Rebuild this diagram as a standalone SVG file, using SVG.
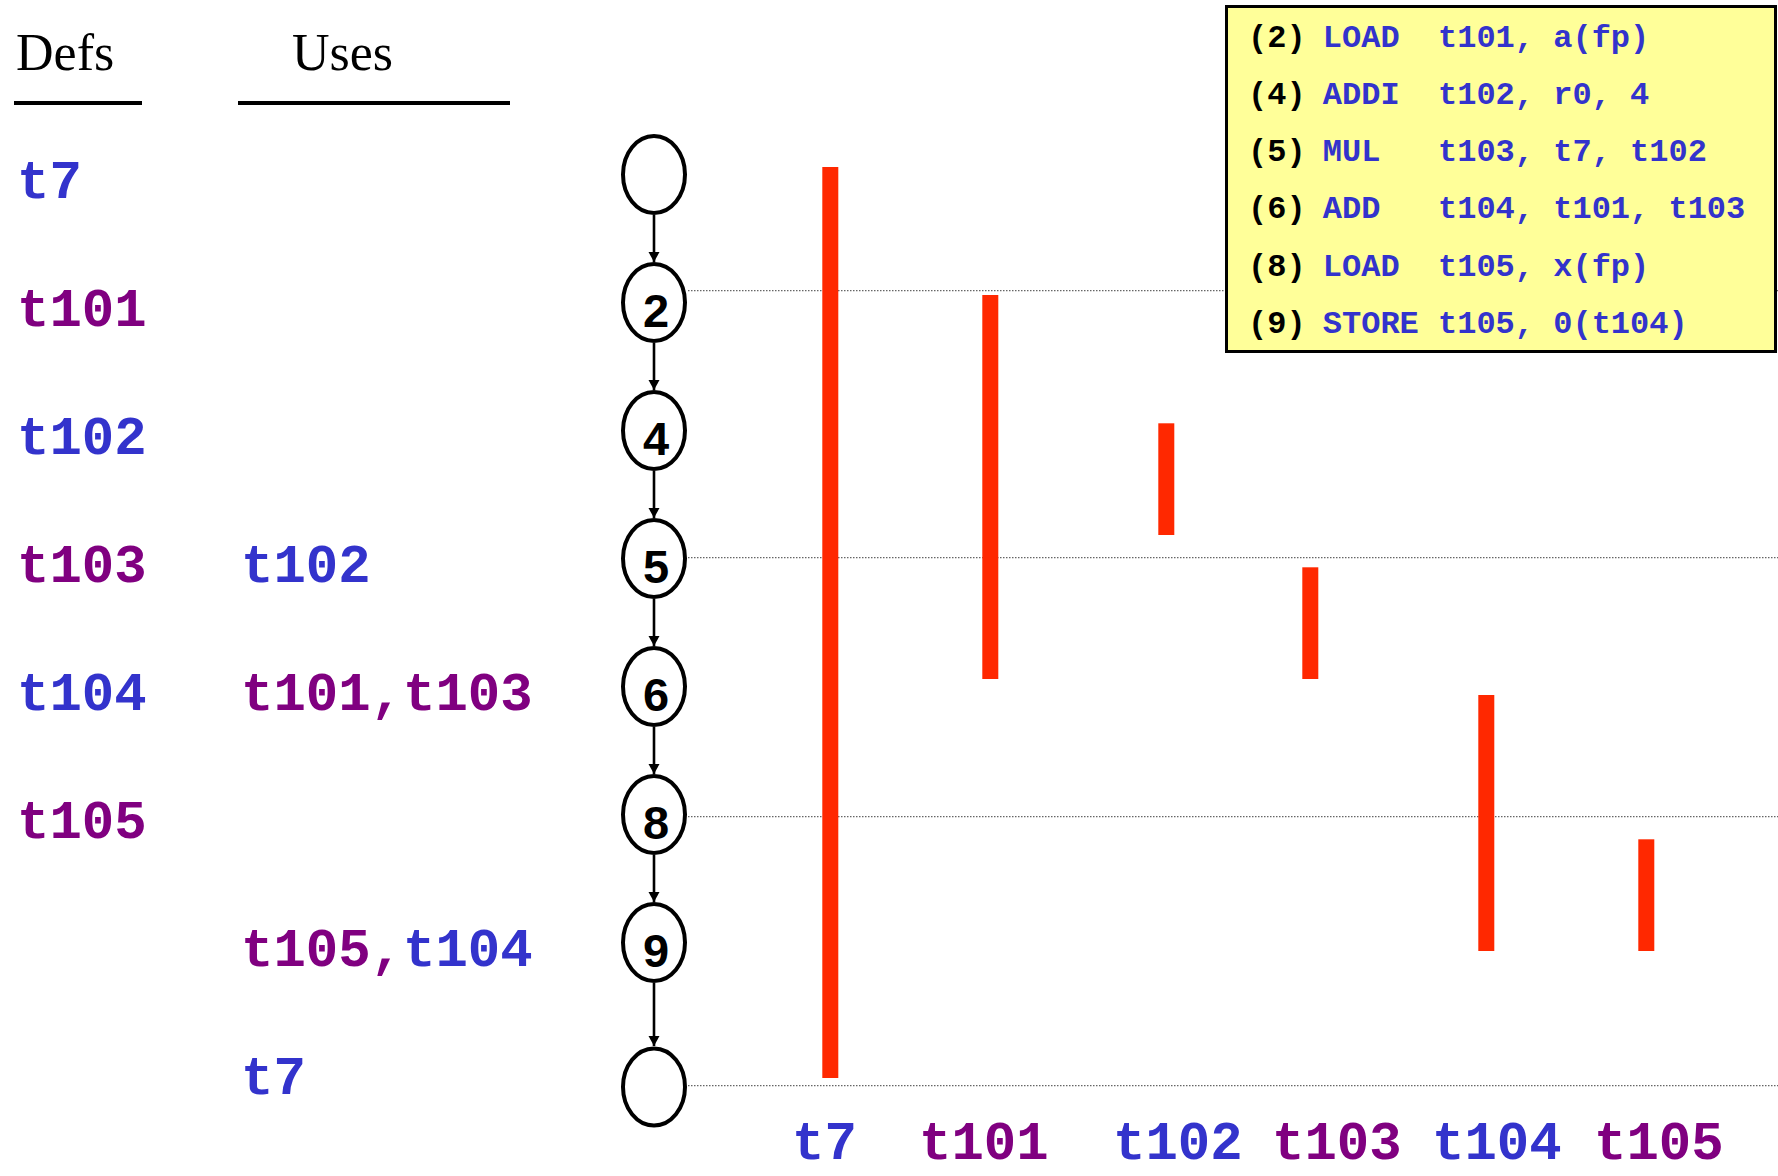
<svg xmlns="http://www.w3.org/2000/svg" width="1778" height="1176" viewBox="0 0 1778 1176">
  <defs>
    <style>
      .hdr { font-family: "Liberation Serif", "Times New Roman", serif; font-size: 52px; fill: #000; }
      .mono { font-family: "Liberation Mono", "Courier New", monospace; font-weight: bold; font-size: 54px; }
      .code { font-family: "Liberation Mono", "Courier New", monospace; font-weight: bold; font-size: 32px; fill: #3333CC; }
      .num { fill: #000; }
      .blue { fill: #3333CC; }
      .purple { fill: #800080; }
      .node ellipse { fill: #fff; stroke: #000; stroke-width: 4; }
      .node text { font-family: "Liberation Sans", Arial, sans-serif; font-weight: bold; font-size: 47px; fill: #000; text-anchor: middle; }
      .edge { stroke: #000; stroke-width: 2.6; fill: none; }
      .guide { stroke: #666; stroke-width: 1.3; stroke-dasharray: 1.5 1.5; fill: none; }
      .live { fill: #FF2800; }
    </style>
    <marker id="arrow" markerUnits="userSpaceOnUse" markerWidth="12" markerHeight="12" refX="10" refY="5.5" orient="auto">
      <path d="M0,0 L10,5.5 L0,11 Z" fill="#000"/>
    </marker>
  </defs>

  <rect width="1778" height="1176" fill="#fff"/>

  <!-- column headers -->
  <g id="headers">
    <text class="hdr" x="16" y="70">Defs</text>
    <text class="hdr" x="292" y="70">Uses</text>
    <line x1="14" y1="103" x2="142" y2="103" stroke="#000" stroke-width="4"/>
    <line x1="238" y1="103" x2="510" y2="103" stroke="#000" stroke-width="4"/>
  </g>

  <!-- defs column -->
  <g id="defs-column" class="mono">
    <text class="blue" x="17" y="198">t7</text>
    <text class="purple" x="17" y="326">t101</text>
    <text class="blue" x="17" y="454">t102</text>
    <text class="purple" x="17" y="582">t103</text>
    <text class="blue" x="17" y="710">t104</text>
    <text class="purple" x="17" y="838">t105</text>
  </g>

  <!-- uses column -->
  <g id="uses-column" class="mono">
    <text class="blue" x="241" y="582">t102</text>
    <text class="purple" x="241" y="710">t101,t103</text>
    <text x="241" y="966"><tspan class="purple">t105,</tspan><tspan class="blue">t104</tspan></text>
    <text class="blue" x="241" y="1094">t7</text>
  </g>

  <!-- dotted guide lines at the program points -->
  <g id="guides">
    <line class="guide" x1="688" y1="290.7" x2="1778" y2="290.7"/>
    <line class="guide" x1="688" y1="557.7" x2="1778" y2="557.7"/>
    <line class="guide" x1="688" y1="816.7" x2="1778" y2="816.7"/>
    <line class="guide" x1="688" y1="1085.7" x2="1778" y2="1085.7"/>
  </g>

  <!-- live ranges -->
  <g id="live-ranges">
    <rect class="live" x="822.3" y="167" width="16" height="911"/>
    <rect class="live" x="982.3" y="295" width="16" height="384"/>
    <rect class="live" x="1158.3" y="423.3" width="16" height="111.7"/>
    <rect class="live" x="1302.3" y="567.3" width="16" height="111.7"/>
    <rect class="live" x="1478.3" y="695" width="16" height="256"/>
    <rect class="live" x="1638.3" y="839.3" width="16" height="111.7"/>
  </g>

  <!-- control-flow edges -->
  <g id="edges">
    <line class="edge" x1="654" y1="215" x2="654" y2="262" marker-end="url(#arrow)"/>
    <line class="edge" x1="654" y1="343" x2="654" y2="390" marker-end="url(#arrow)"/>
    <line class="edge" x1="654" y1="471" x2="654" y2="518" marker-end="url(#arrow)"/>
    <line class="edge" x1="654" y1="599" x2="654" y2="646" marker-end="url(#arrow)"/>
    <line class="edge" x1="654" y1="727" x2="654" y2="774" marker-end="url(#arrow)"/>
    <line class="edge" x1="654" y1="855" x2="654" y2="902" marker-end="url(#arrow)"/>
    <line class="edge" x1="654" y1="983" x2="654" y2="1046" marker-end="url(#arrow)"/>
  </g>

  <!-- flow-graph nodes -->
  <g id="node-entry" class="node"><ellipse cx="654" cy="174.5" rx="31" ry="38.5"/></g>
  <g id="node-2" class="node"><ellipse cx="654" cy="302.5" rx="31" ry="38.5"/><text x="656" y="326.5">2</text></g>
  <g id="node-4" class="node"><ellipse cx="654" cy="430.5" rx="31" ry="38.5"/><text x="656" y="454.5">4</text></g>
  <g id="node-5" class="node"><ellipse cx="654" cy="558.5" rx="31" ry="38.5"/><text x="656" y="582.5">5</text></g>
  <g id="node-6" class="node"><ellipse cx="654" cy="686.5" rx="31" ry="38.5"/><text x="656" y="710.5">6</text></g>
  <g id="node-8" class="node"><ellipse cx="654" cy="814.5" rx="31" ry="38.5"/><text x="656" y="838.5">8</text></g>
  <g id="node-9" class="node"><ellipse cx="654" cy="942.5" rx="31" ry="38.5"/><text x="656" y="966.5">9</text></g>
  <g id="node-exit" class="node"><ellipse cx="654" cy="1087" rx="31" ry="38.5"/></g>

  <!-- temporaries along the bottom axis -->
  <g id="axis-labels" class="mono">
    <text class="blue" x="792" y="1159">t7</text>
    <text class="purple" x="919" y="1159">t101</text>
    <text class="blue" x="1113" y="1159">t102</text>
    <text class="purple" x="1272" y="1159">t103</text>
    <text class="blue" x="1432" y="1159">t104</text>
    <text class="purple" x="1594" y="1159">t105</text>
  </g>

  <!-- instruction listing -->
  <g id="listing">
    <rect x="1226.5" y="6.5" width="549" height="345" fill="#FFFF99" stroke="#000" stroke-width="3"/>
    <text class="code" y="46.5"><tspan class="num" x="1248">(2)</tspan><tspan x="1322.8">LOAD</tspan><tspan x="1438">t101, a(fp)</tspan></text>
    <text class="code" y="103.8"><tspan class="num" x="1248">(4)</tspan><tspan x="1322.8">ADDI</tspan><tspan x="1438">t102, r0, 4</tspan></text>
    <text class="code" y="161.1"><tspan class="num" x="1248">(5)</tspan><tspan x="1322.8">MUL</tspan><tspan x="1438">t103, t7, t102</tspan></text>
    <text class="code" y="218.4"><tspan class="num" x="1248">(6)</tspan><tspan x="1322.8">ADD</tspan><tspan x="1438">t104, t101, t103</tspan></text>
    <text class="code" y="275.7"><tspan class="num" x="1248">(8)</tspan><tspan x="1322.8">LOAD</tspan><tspan x="1438">t105, x(fp)</tspan></text>
    <text class="code" y="333"><tspan class="num" x="1248">(9)</tspan><tspan x="1322.8">STORE</tspan><tspan x="1438">t105, 0(t104)</tspan></text>
  </g>
</svg>
